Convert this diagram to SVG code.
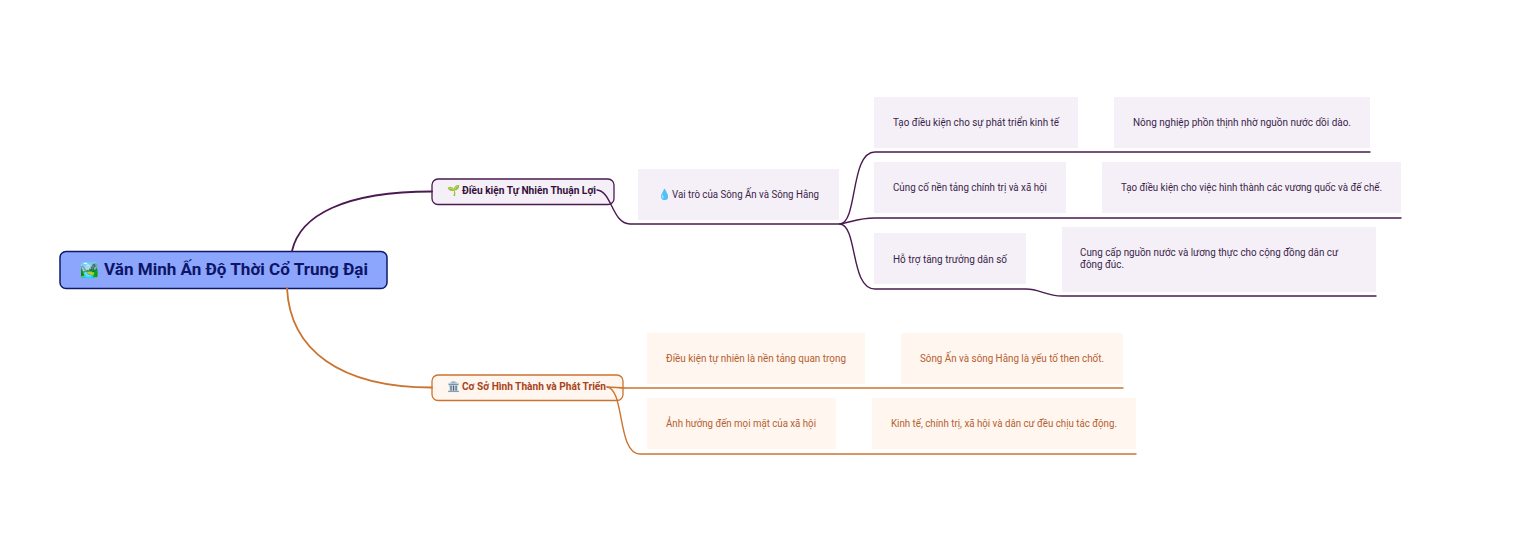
<svg xmlns="http://www.w3.org/2000/svg" width="1518" height="540" viewBox="0 0 1518 540">
<style>
text{font-family:Roboto,"Noto Sans","DejaVu Sans",sans-serif;font-size:10.5px}
.card{stroke:none}
.p{fill:#f5f0f7}.o{fill:#fff6ef}
.pt{fill:#3a1f4a}.ot{fill:#b5602f}
.l{fill:none;stroke-linecap:round}
.lp{stroke:#4a1a50;stroke-width:1.4}
.lo{stroke:#cb7430;stroke-width:1.4}
</style>
<rect width="1518" height="540" fill="#ffffff"/>
<g id="root">
<rect x="60" y="251.500" width="327" height="37" rx="6" fill="#8ca5fd" stroke="#0f1a66" stroke-width="1.500"/>
<text y="275" style="font-size:16.500px;font-weight:700;fill:#0d1566"><tspan x="80" style="font-size:15px">🏞️</tspan><tspan x="104" textLength="264" lengthAdjust="spacingAndGlyphs">Văn Minh Ấn Độ Thời Cổ Trung Đại</tspan></text>
</g>
<g id="branch-dieu-kien">
<rect x="432" y="179" width="182" height="25.500" rx="6" fill="#f5f0f7" stroke="#4a1a50" stroke-width="1.300"/>
<text y="194" style="font-weight:700;fill:#33123a"><tspan x="447">🌱</tspan><tspan x="462" textLength="134" lengthAdjust="spacingAndGlyphs">Điều kiện Tự Nhiên Thuận Lợi</tspan></text>
</g>
<g id="branch-co-so">
<rect x="432" y="375" width="191" height="25.500" rx="6" fill="#fff6ef" stroke="#cb7430" stroke-width="1.300"/>
<text y="390" style="font-weight:700;fill:#a8441c"><tspan x="447">🏛️</tspan><tspan x="462" textLength="144" lengthAdjust="spacingAndGlyphs">Cơ Sở Hình Thành và Phát Triển</tspan></text>
</g>
<g id="vai-tro"><rect class="card p" x="638" y="169" width="201" height="51"/><text class="pt" y="198"><tspan x="658">💧</tspan><tspan x="672" textLength="147" lengthAdjust="spacingAndGlyphs">Vai trò của Sông Ấn và Sông Hằng</tspan></text></g>
<g id="kinh-te"><rect class="card p" x="874" y="97" width="204" height="51"/><text class="pt" x="893" y="126" textLength="166" lengthAdjust="spacingAndGlyphs">Tạo điều kiện cho sự phát triển kinh tế</text></g>
<g id="nong-nghiep"><rect class="card p" x="1114" y="97" width="256" height="51"/><text class="pt" x="1133" y="126" textLength="218" lengthAdjust="spacingAndGlyphs">Nông nghiệp phồn thịnh nhờ nguồn nước dồi dào.</text></g>
<g id="chinh-tri"><rect class="card p" x="874" y="162" width="192" height="51"/><text class="pt" x="893" y="191" textLength="154" lengthAdjust="spacingAndGlyphs">Củng cố nền tảng chính trị và xã hội</text></g>
<g id="vuong-quoc"><rect class="card p" x="1102" y="162" width="299" height="51"/><text class="pt" x="1121" y="191" textLength="261" lengthAdjust="spacingAndGlyphs">Tạo điều kiện cho việc hình thành các vương quốc và đế chế.</text></g>
<g id="dan-so"><rect class="card p" x="874" y="233" width="152" height="51"/><text class="pt" x="893" y="263" textLength="114" lengthAdjust="spacingAndGlyphs">Hỗ trợ tăng trưởng dân số</text></g>
<g id="luong-thuc"><rect class="card p" x="1062" y="227" width="314" height="65"/><text class="pt" x="1080" y="256" textLength="258" lengthAdjust="spacingAndGlyphs">Cung cấp nguồn nước và lương thực cho cộng đồng dân cư</text><text class="pt" x="1080" y="268" textLength="44" lengthAdjust="spacingAndGlyphs">đông đúc.</text></g>
<g id="nen-tang"><rect class="card o" x="647" y="333" width="218" height="51"/><text class="ot" x="666" y="362" textLength="180" lengthAdjust="spacingAndGlyphs">Điều kiện tự nhiên là nền tảng quan trọng</text></g>
<g id="then-chot"><rect class="card o" x="901" y="333" width="222" height="51"/><text class="ot" x="920" y="362" textLength="184" lengthAdjust="spacingAndGlyphs">Sông Ấn và sông Hằng là yếu tố then chốt.</text></g>
<g id="anh-huong"><rect class="card o" x="647" y="398" width="189" height="51"/><text class="ot" x="666" y="427" textLength="150" lengthAdjust="spacingAndGlyphs">Ảnh hưởng đến mọi mặt của xã hội</text></g>
<g id="tac-dong"><rect class="card o" x="872" y="398" width="264" height="51"/><text class="ot" x="891" y="427" textLength="226" lengthAdjust="spacingAndGlyphs">Kinh tế, chính trị, xã hội và dân cư đều chịu tác động.</text></g>
<g id="connectors">
<path class="l lp" style="stroke-width:1.800" d="M292 251C300 215 345 191.500 432 191.500"/>
<path class="l lo" style="stroke-width:1.800" d="M287 288C290 350 340 387.500 432 387.500"/>
<path class="l lp" d="M597 190C612 191 612 224 630 224L840 224"/>
<path class="l lp" d="M840 224C858 222 850 152 875 152L1370 152"/>
<path class="l lp" d="M840 224C852 222 858 218 875 218L1401 218"/>
<path class="l lp" d="M840 224C858 226 850 289 875 289L1026 289C1040 289 1046 296 1062 296L1376 296"/>
<path class="l lo" d="M607 387C615 387 618 388 626 388L1123 388"/>
<path class="l lo" d="M607 387C625 389 617 454 640 454L1136 454"/>
</g>
</svg>
